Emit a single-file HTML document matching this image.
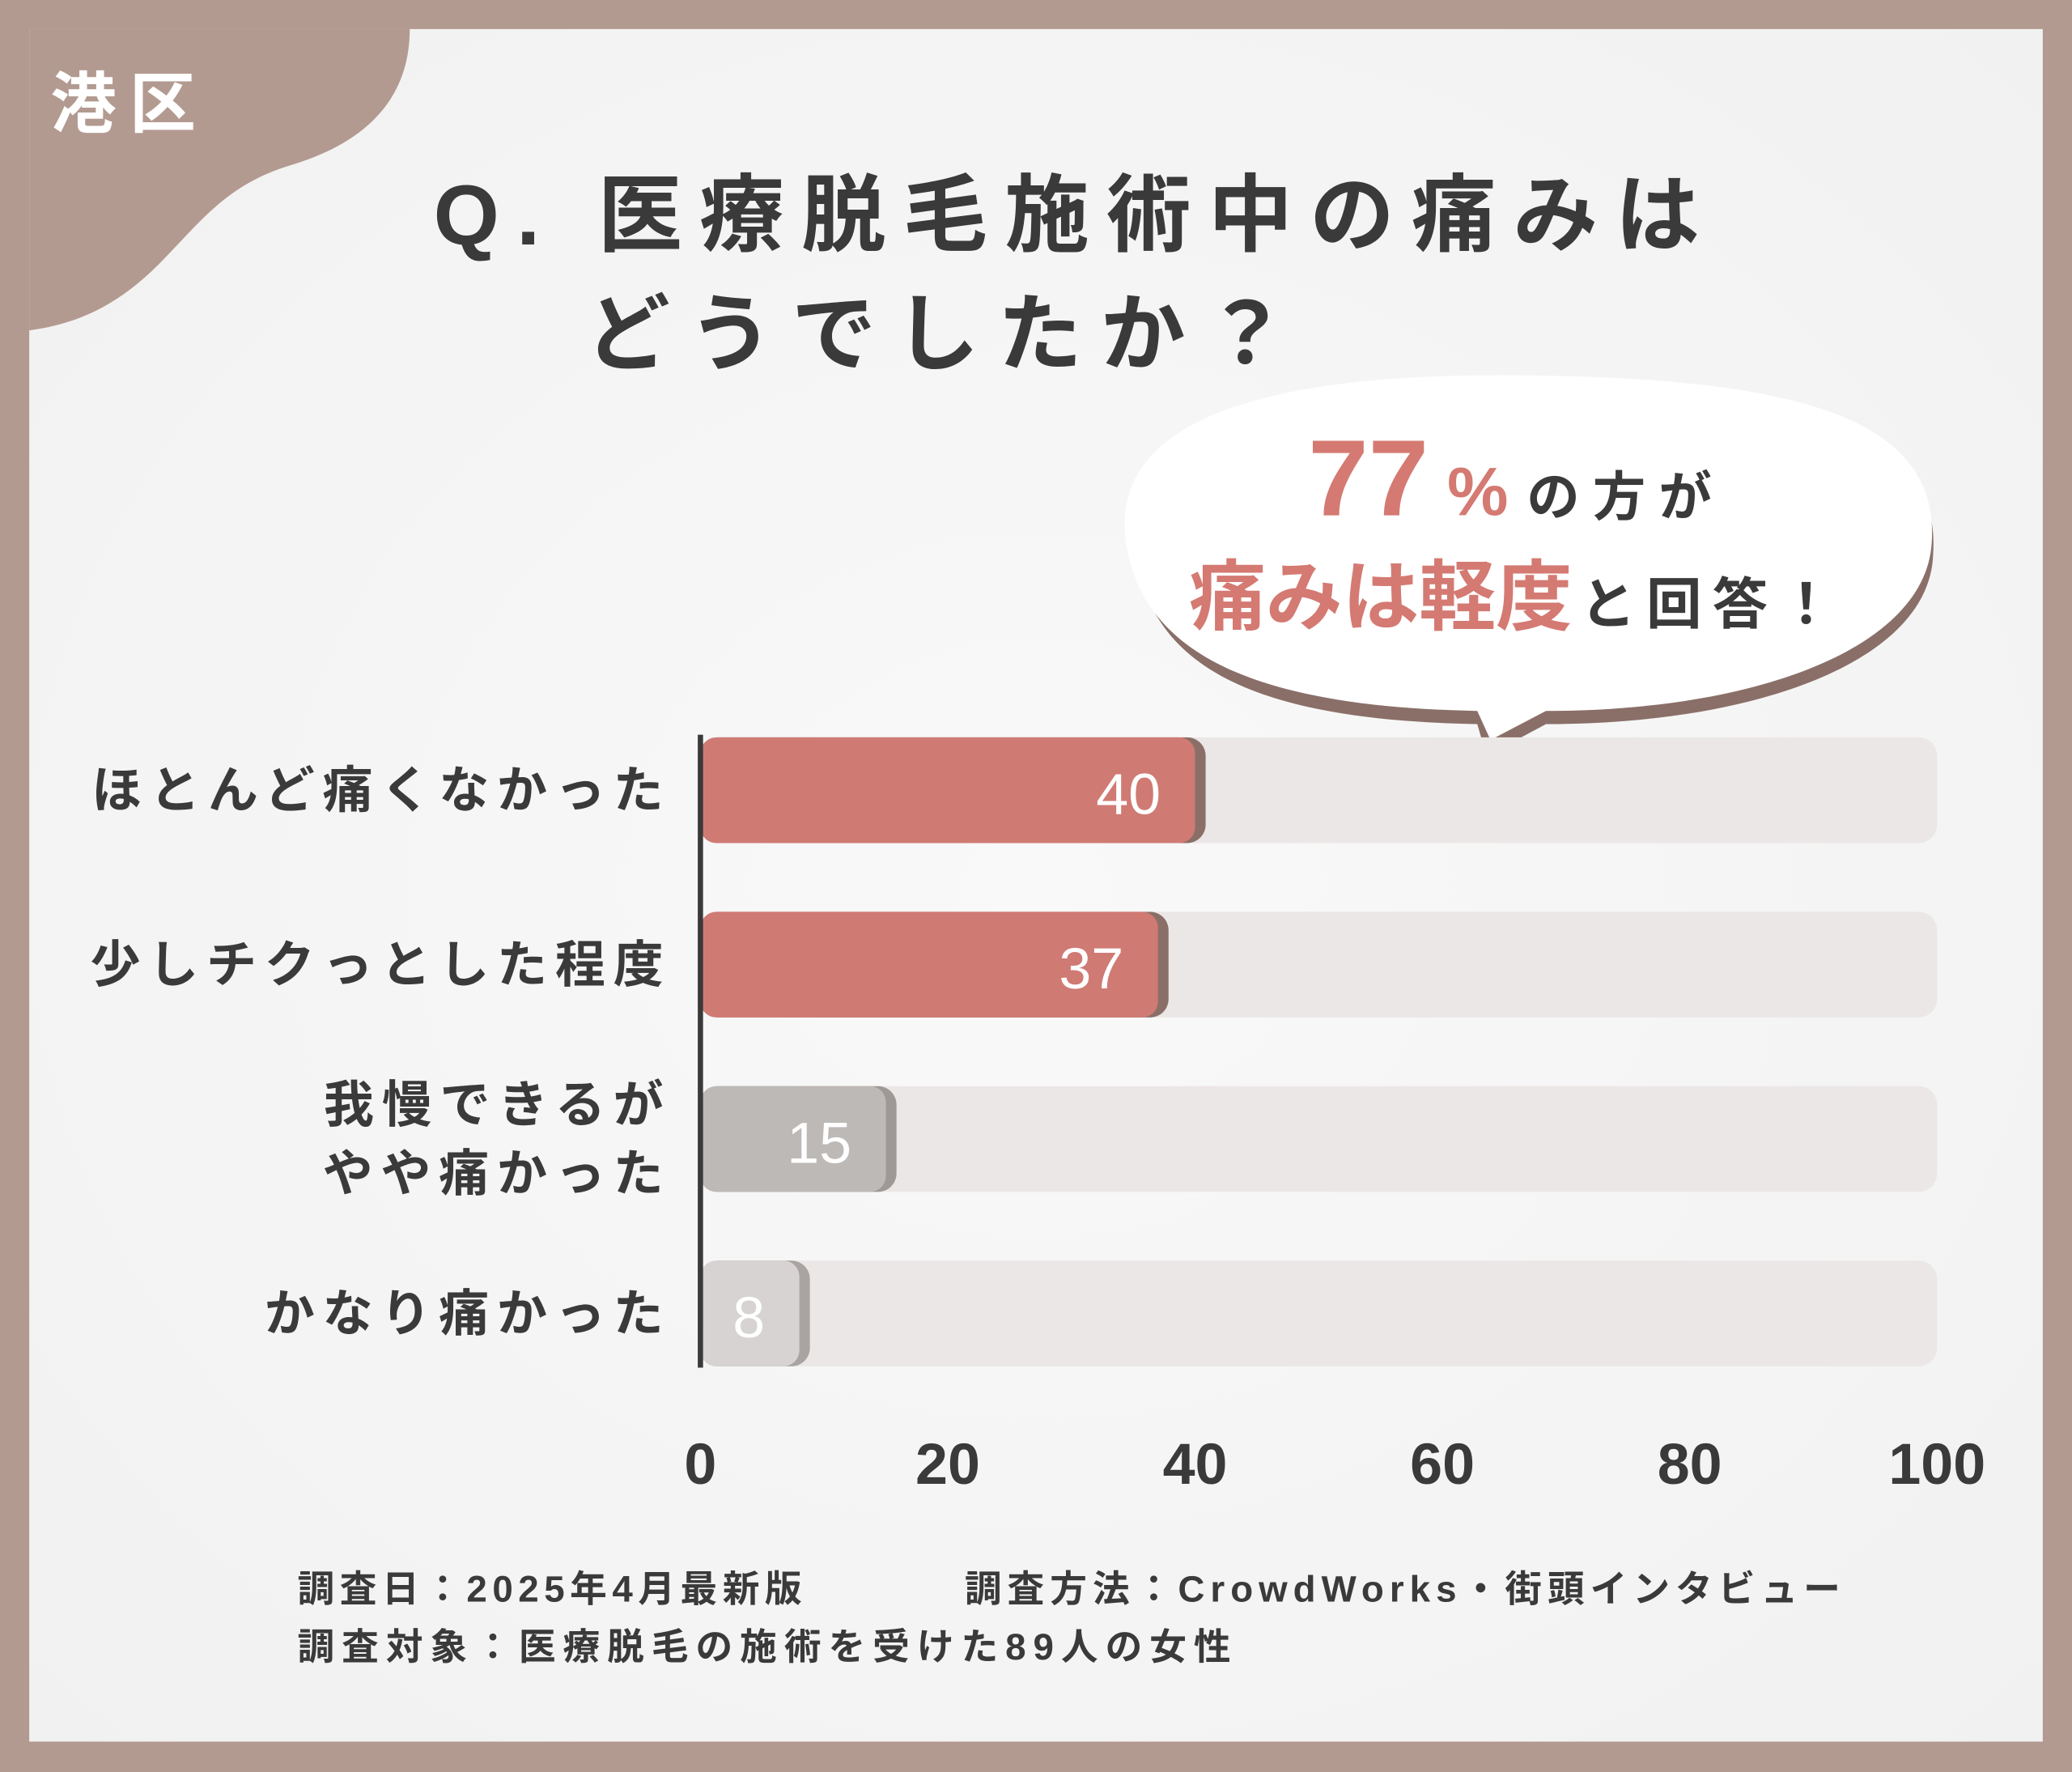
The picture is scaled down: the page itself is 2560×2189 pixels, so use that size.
<!DOCTYPE html>
<html><head><meta charset="utf-8">
<style>
html,body{margin:0;padding:0;background:#b39a90;}
svg{display:block;}
text{font-family:"Liberation Sans","Noto Sans CJK JP",sans-serif;}
</style></head>
<body>
<svg width="2560" height="2189" viewBox="0 0 1568 1341" xmlns="http://www.w3.org/2000/svg">
<defs>
<radialGradient id="bgG" cx="0.5" cy="0.5" r="0.7">
<stop offset="0" stop-color="#f9f9f9"/><stop offset="1" stop-color="#f1f1f1"/>
</radialGradient>
</defs>
<rect x="0" y="0" width="1568" height="1341" fill="#b39a90"/>
<rect x="22" y="22" width="1524" height="1296" fill="url(#bgG)"/>
<path d="M22 22 H310 C310 80 270 110 220 125 C170 140 150 170 120 200 C90 230 60 245 22 250 Z" fill="#b39a90"/>
<text x="38" y="96" font-size="50" font-weight="bold" fill="#ffffff" letter-spacing="10">港区</text>
<text x="328" y="185" font-size="64" font-weight="bold" fill="#3a3a3a" letter-spacing="13">Q. 医療脱毛施術中の痛みは</text>
<text x="443" y="275" font-size="64" font-weight="bold" fill="#3a3a3a" letter-spacing="14">どうでしたか？</text>

<g>
<path d="M860 420 C845 330 950 288 1150 290 C1350 292 1470 320 1463 420 C1460 500 1330 548 1170 548 L1125 572 L1118 548 C960 545 872 510 860 420 Z" fill="#8a6f68"/>
<path d="M852 410 C840 320 950 282 1150 284 C1350 286 1468 312 1462 410 C1458 490 1330 538 1170 538 L1128 560 L1118 538 C960 535 865 500 852 410 Z" fill="#ffffff"/>
<text x="990" y="390" font-size="82" font-weight="bold" fill="#d47a72">77<tspan font-size="52" dx="14">%</tspan><tspan font-size="40" fill="#3a3a3a" dx="14" letter-spacing="10">の方が</tspan></text>
<text x="900" y="472" font-size="58" font-weight="bold" fill="#d47a72">痛みは軽度<tspan font-size="42" fill="#3a3a3a" dx="6" letter-spacing="8">と回答！</tspan></text>
</g>
<ellipse cx="1060" cy="593" rx="16" ry="12" fill="#ffffff"/>
<ellipse cx="1024" cy="609" rx="8" ry="7" fill="#ffffff"/>

<g id="chart"></g>

<text x="225" y="1212" font-size="28" font-weight="bold" fill="#3a3a3a" letter-spacing="4">調査日：2025年4月最新版</text>
<text x="730" y="1212" font-size="28" font-weight="bold" fill="#3a3a3a" letter-spacing="4.3">調査方法：CrowdWorks・街頭インタビュー</text>
<text x="225" y="1256" font-size="28" font-weight="bold" fill="#3a3a3a" letter-spacing="5.5">調査対象：医療脱毛の施術を受けた89人の女性</text>
</svg>
<script>
const categories=[["ほとんど痛くなかった"],["少しチクっとした程度"],["我慢できるが","やや痛かった"],["かなり痛かった"]];
const values=[40,37,15,8];
const ticks=[0,20,40,60,80,100];
const barColors=["#d07a74","#d07a74","#bdb9b7","#d6d3d2"];
const capColors=["#8a6f68","#8a6f68","#9e9896","#a9a4a2"];
const NS="http://www.w3.org/2000/svg";
const g=document.getElementById('chart');
const x0=530,x1=1466;
function xs(v){return x0+(x1-x0)*v/100;}
function ys(i){return 598+i*132;}
const H=80;
function el(t,a){const e=document.createElementNS(NS,t);for(const k in a)e.setAttribute(k,a[k]);g.appendChild(e);return e;}
values.forEach((v,i)=>{
 const y=ys(i)-H/2;
 const tr=el('rect',{x:x0,y:y,width:xs(100)-x0,height:H,rx:14,fill:'#ebe7e6'});
 
 
 const cap=el('rect',{x:x0,y:y,width:xs(v)-x0+8,height:H,rx:14,fill:capColors[i]});
 
 
 const b=el('rect',{x:x0,y:y,width:xs(v)-x0,height:H,rx:12,fill:barColors[i]});
 
 
 const vt=el('text',{x:xs(v)-26,y:ys(i)+18,'font-size':44,fill:'#ffffff','text-anchor':'end'});
 vt.textContent=v;
 
 
 const lines=categories[i];
 lines.forEach((s,j)=>{
  const t=el('text',{x:508,y:ys(i)+13+(j-(lines.length-1)/2)*52,'font-size':38,'font-weight':'bold',fill:'#3a3a3a','text-anchor':'end','letter-spacing':6});
  t.textContent=s;
  
  
 });
});
const ax=el('line',{x1:x0,y1:556,x2:x0,y2:1035,stroke:'#3a3a3a','stroke-width':4});


ticks.forEach(t=>{
 const tx=el('text',{x:xs(t),y:1123,'font-size':44,'font-weight':'bold',fill:'#3a3a3a','text-anchor':'middle'});
 tx.textContent=t;
 
 
});
</script>
</body></html>
